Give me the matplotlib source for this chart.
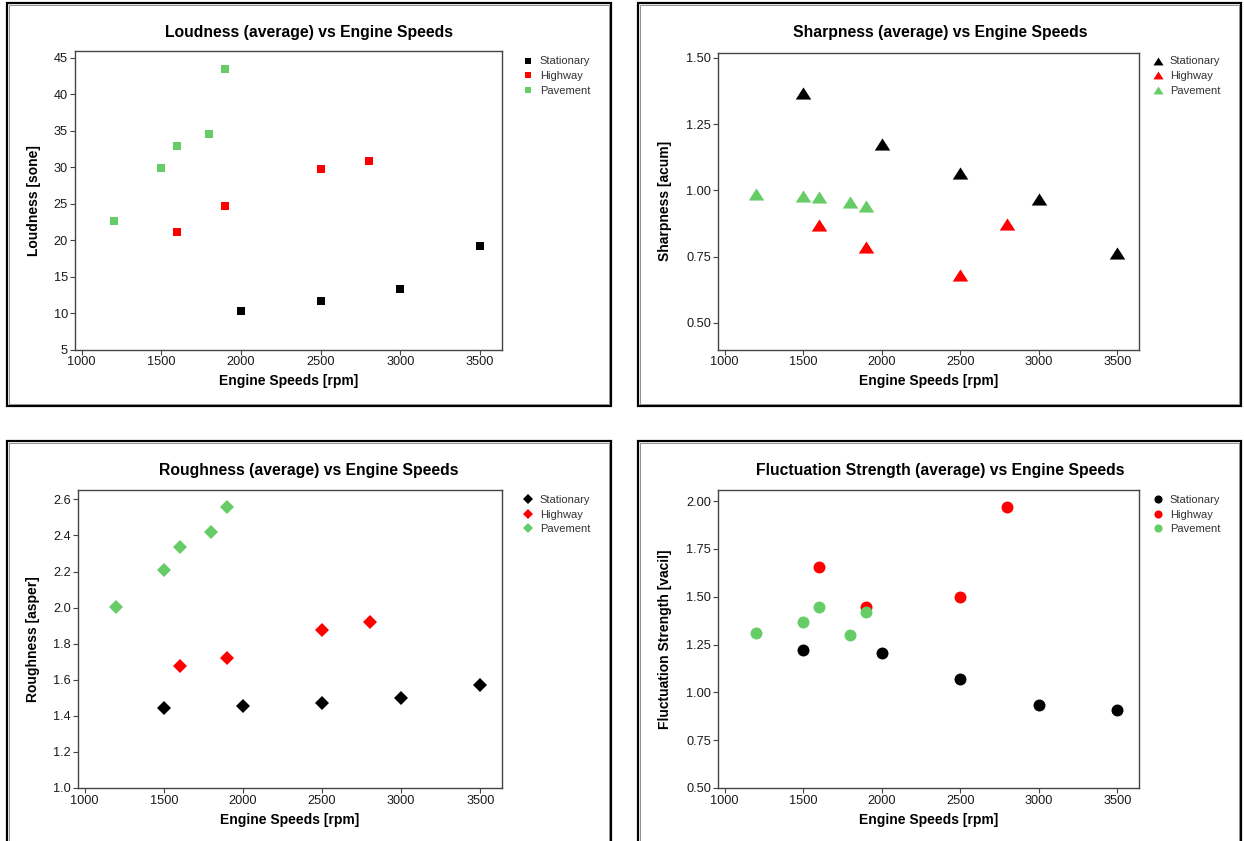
import numpy as np
import matplotlib.pyplot as plt
from matplotlib.patches import Rectangle

plt.rcParams['font.family'] = ['Liberation Sans', 'DejaVu Sans']

W, H = 1244, 841

# ---------------- data ----------------
labels = ['Stationary', 'Highway', 'Pavement']
colors = ['#000000', '#ff0000', '#66cc66']

stat_rpm = [1500, 2000, 2500, 3000, 3500]
hwy_rpm = [1600, 1900, 2500, 2800]
pav_rpm = [1200, 1500, 1600, 1800, 1900]

# loudness has no stationary point at 1500
loud_stat_rpm = [2000, 2500, 3000, 3500]
loud_stat = [10.3, 11.7, 13.3, 19.2]
loud_hwy = [21.1, 24.7, 29.8, 30.8]
loud_pav = [22.6, 29.9, 32.9, 34.5, 43.5]

sharp_stat = [1.366, 1.175, 1.066, 0.966, 0.764]
sharp_hwy = [0.869, 0.785, 0.680, 0.873]
sharp_pav = [0.986, 0.979, 0.974, 0.955, 0.942]

rough_stat = [1.441, 1.456, 1.473, 1.499, 1.569]
rough_hwy = [1.679, 1.719, 1.875, 1.918]
rough_pav = [2.005, 2.207, 2.335, 2.418, 2.557]

fluct_stat = [1.219, 1.205, 1.072, 0.935, 0.909]
fluct_hwy = [1.657, 1.448, 1.497, 1.970]
fluct_pav = [1.311, 1.369, 1.448, 1.299, 1.420]
########################################

fig = plt.figure(figsize=(W / 100, H / 100), dpi=100)


def fx(x):
    return x / W


def fy(y):
    return 1 - y / H


def frame(x0, y0, x1, y1):
    # black outer box with a thin grey inner line
    fig.patches.append(Rectangle((fx(x0), fy(y1)), fx(x1 - x0), (y1 - y0) / H,
                                 transform=fig.transFigure, fill=False,
                                 edgecolor='black', linewidth=1.6))
    fig.patches.append(Rectangle((fx(x0 + 2), fy(y1 - 2)), fx(x1 - x0 - 4), (y1 - y0 - 4) / H,
                                 transform=fig.transFigure, fill=False,
                                 edgecolor='#909090', linewidth=0.7))


frame(7, 3, 611, 406)
frame(638, 3, 1241, 406)
frame(7, 441, 611, 900)
frame(638, 441, 1241, 900)

tri = [(0, 0.78), (-1, -0.78), (1, -0.78)]


def panel(box, title, ylabel, series, marker, ms, ylim, yticks, yfmt,
          title_x, title_y, xlab_y, ylab_x, leg_x, leg_y, mscale):
    left, right, top, bottom = box
    ax = fig.add_axes([fx(left), fy(bottom), fx(right - left), (bottom - top) / H])
    for (xs, ys), lab, c in zip(series, labels, colors):
        ax.plot(xs, ys, linestyle='none', marker=marker, markersize=ms,
                color=c, markeredgewidth=0, label=lab)
    ax.set_xlim(958, 3637)
    ax.set_ylim(*ylim)
    ax.set_xticks([1000, 1500, 2000, 2500, 3000, 3500])
    ax.set_yticks(yticks)
    ax.set_yticklabels([yfmt.format(v) for v in yticks])
    for s in ax.spines.values():
        s.set_color('#444444')
        s.set_linewidth(1.0)
    ax.tick_params(direction='out', length=3.5, width=0.8, color='#444444',
                   labelsize=9.2, labelcolor='#1a1a1a', pad=1.5)
    fig.text(fx(title_x), fy(title_y), title, ha='center', va='center',
             fontsize=11.3, fontweight='bold')
    fig.text(fx((left + right) / 2), fy(xlab_y), 'Engine Speeds [rpm]',
             ha='center', va='center', fontsize=10, fontweight='bold')
    fig.text(fx(ylab_x), fy((top + bottom) / 2), ylabel, rotation=90,
             ha='center', va='center', fontsize=10, fontweight='bold')
    ax.legend(loc='upper left', bbox_to_anchor=(fx(leg_x), fy(leg_y)),
              bbox_transform=fig.transFigure, frameon=False, fontsize=8,
              handlelength=1.0, handletextpad=0.6, labelspacing=0.42,
              borderpad=0, borderaxespad=0, markerscale=mscale,
              labelcolor='#333333')
    return ax


panel((75, 502, 51, 349.5), 'Loudness (average) vs Engine Speeds',
      'Loudness [sone]',
      [(loud_stat_rpm, loud_stat), (hwy_rpm, loud_hwy), (pav_rpm, loud_pav)],
      's', 5.8, (5, 45.9), list(range(5, 50, 5)), '{:d}',
      309, 32, 381, 34, 522, 56.5, 0.75)

panel((718, 1139, 52.5, 349.5), 'Sharpness (average) vs Engine Speeds',
      'Sharpness [acum]',
      [(stat_rpm, sharp_stat), (hwy_rpm, sharp_hwy), (pav_rpm, sharp_pav)],
      tri, 11.2, (0.40, 1.52), [0.5, 0.75, 1.0, 1.25, 1.5], '{:.2f}',
      940, 32, 381, 665, 1152, 56.5, 0.65)

panel((78, 502, 489.6, 788), 'Roughness (average) vs Engine Speeds',
      'Roughness [asper]',
      [(stat_rpm, rough_stat), (hwy_rpm, rough_hwy), (pav_rpm, rough_pav)],
      'D', 7.3, (1.0, 2.654), [1.0, 1.2, 1.4, 1.6, 1.8, 2.0, 2.2, 2.4, 2.6], '{:.1f}',
      309, 470, 820, 33, 522, 495, 0.65)

panel((718, 1139, 489.6, 788), 'Fluctuation Strength (average) vs Engine Speeds',
      'Fluctuation Strength [vacil]',
      [(stat_rpm, fluct_stat), (hwy_rpm, fluct_hwy), (pav_rpm, fluct_pav)],
      'o', 8.6, (0.5, 2.06), [0.5, 0.75, 1.0, 1.25, 1.5, 1.75, 2.0], '{:.2f}',
      940, 470, 820, 665, 1152, 495, 0.68)

fig.savefig('out.png', dpi=100)
